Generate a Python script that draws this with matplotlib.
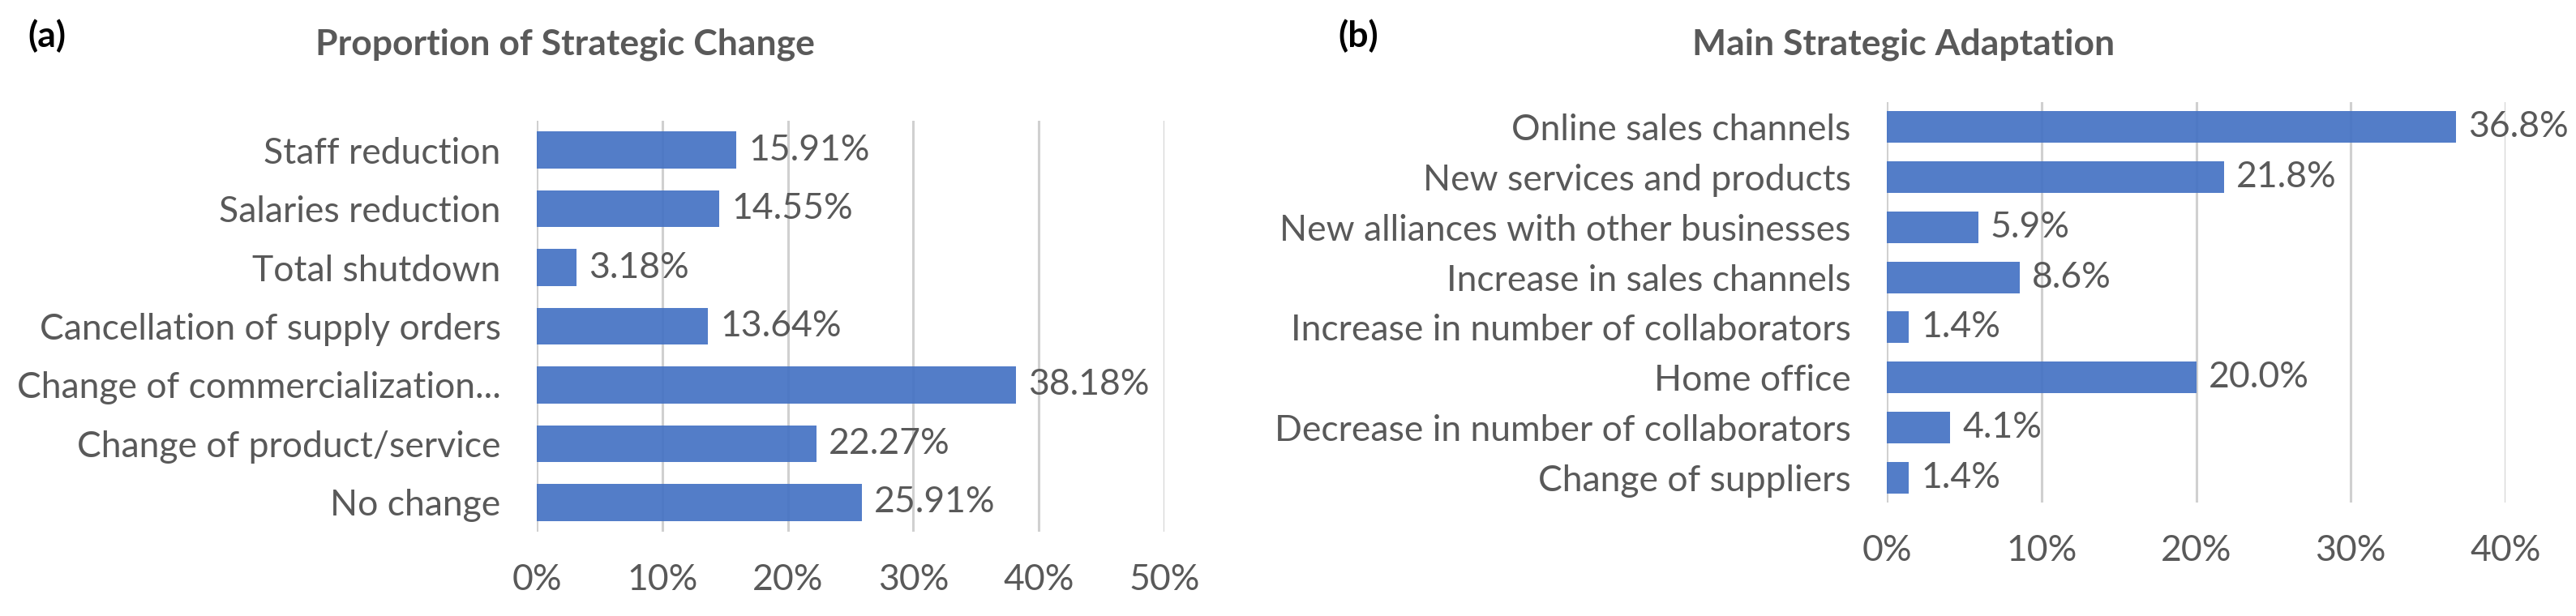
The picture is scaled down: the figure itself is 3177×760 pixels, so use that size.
import numpy as np
import matplotlib
matplotlib.use('Agg')
import matplotlib.pyplot as plt
from matplotlib.ticker import FuncFormatter

# data, top to bottom as in the chart
change_labels = ['Staff reduction', 'Salaries reduction', 'Total shutdown',
                 'Cancellation of supply orders', 'Change of commercialization...',
                 'Change of product/service', 'No change']
change_values = [15.91, 14.55, 3.18, 13.64, 38.18, 22.27, 25.91]

adapt_labels = ['Online sales channels', 'New services and products',
                'New alliances with other businesses', 'Increase in sales channels',
                'Increase in number of collaborators', 'Home office',
                'Decrease in number of collaborators', 'Change of suppliers']
adapt_values = [36.8, 21.8, 5.9, 8.6, 1.4, 20.0, 4.1, 1.4]

plt.rcParams['font.family'] = ['Lato', 'DejaVu Sans']

TXT = '#595959'
BAR = '#4472C4'
FS = 32

fig = plt.figure(figsize=(31.77, 7.6), dpi=100)


def hbar(ax, labels, values, xmax, fmt, title, letter, title_x, letter_x):
    y = np.arange(len(labels))
    ax.barh(y, values, height=0.63, color=BAR, alpha=0.92, zorder=2)
    for yi, v in zip(y, values):
        ax.annotate(fmt.format(v), (v, yi), xytext=(11, 0), textcoords='offset points',
                    va='center', ha='left', fontsize=FS, color=TXT, zorder=3)
    ax.set_yticks(y)
    ax.set_yticklabels(labels)
    ax.set_ylim(len(labels) - 0.5, -0.5)
    ax.set_xlim(0, xmax)
    ax.set_xticks(np.arange(0, xmax + 1, 10))
    ax.xaxis.set_major_formatter(FuncFormatter(lambda v, p: '%d%%' % v))
    ax.grid(axis='x', color='#D0D0D0', linewidth=2.2, zorder=0)
    ax.set_axisbelow(True)
    for s in ax.spines.values():
        s.set_visible(False)
    ax.tick_params(axis='both', length=0, labelsize=FS, colors=TXT)
    ax.tick_params(axis='x', pad=28)
    ax.tick_params(axis='y', pad=32)
    fig.text(title_x, 1 - 55 / 760, title, ha='center', va='center', fontsize=FS,
             fontweight='bold', color=TXT)
    fig.text(letter_x, 1 - 44 / 760, letter, ha='center', va='center', fontsize=FS,
             fontweight='bold', color='black')


ax1 = fig.add_axes([662 / 3177, 1 - 656 / 760, (1436 - 662) / 3177, (656 - 149) / 760])
hbar(ax1, change_labels, change_values, 50, '{:.2f}%',
     'Proportion of Strategic Change', '(a)', 697 / 3177, 58 / 3177)

ax2 = fig.add_axes([2327 / 3177, 1 - 620 / 760, (3090 - 2327) / 3177, (620 - 126) / 760])
hbar(ax2, adapt_labels, adapt_values, 40, '{:.1f}%',
     'Main Strategic Adaptation', '(b)', 2348 / 3177, 1675 / 3177)

fig.savefig('out.png', dpi=100, facecolor='white')
